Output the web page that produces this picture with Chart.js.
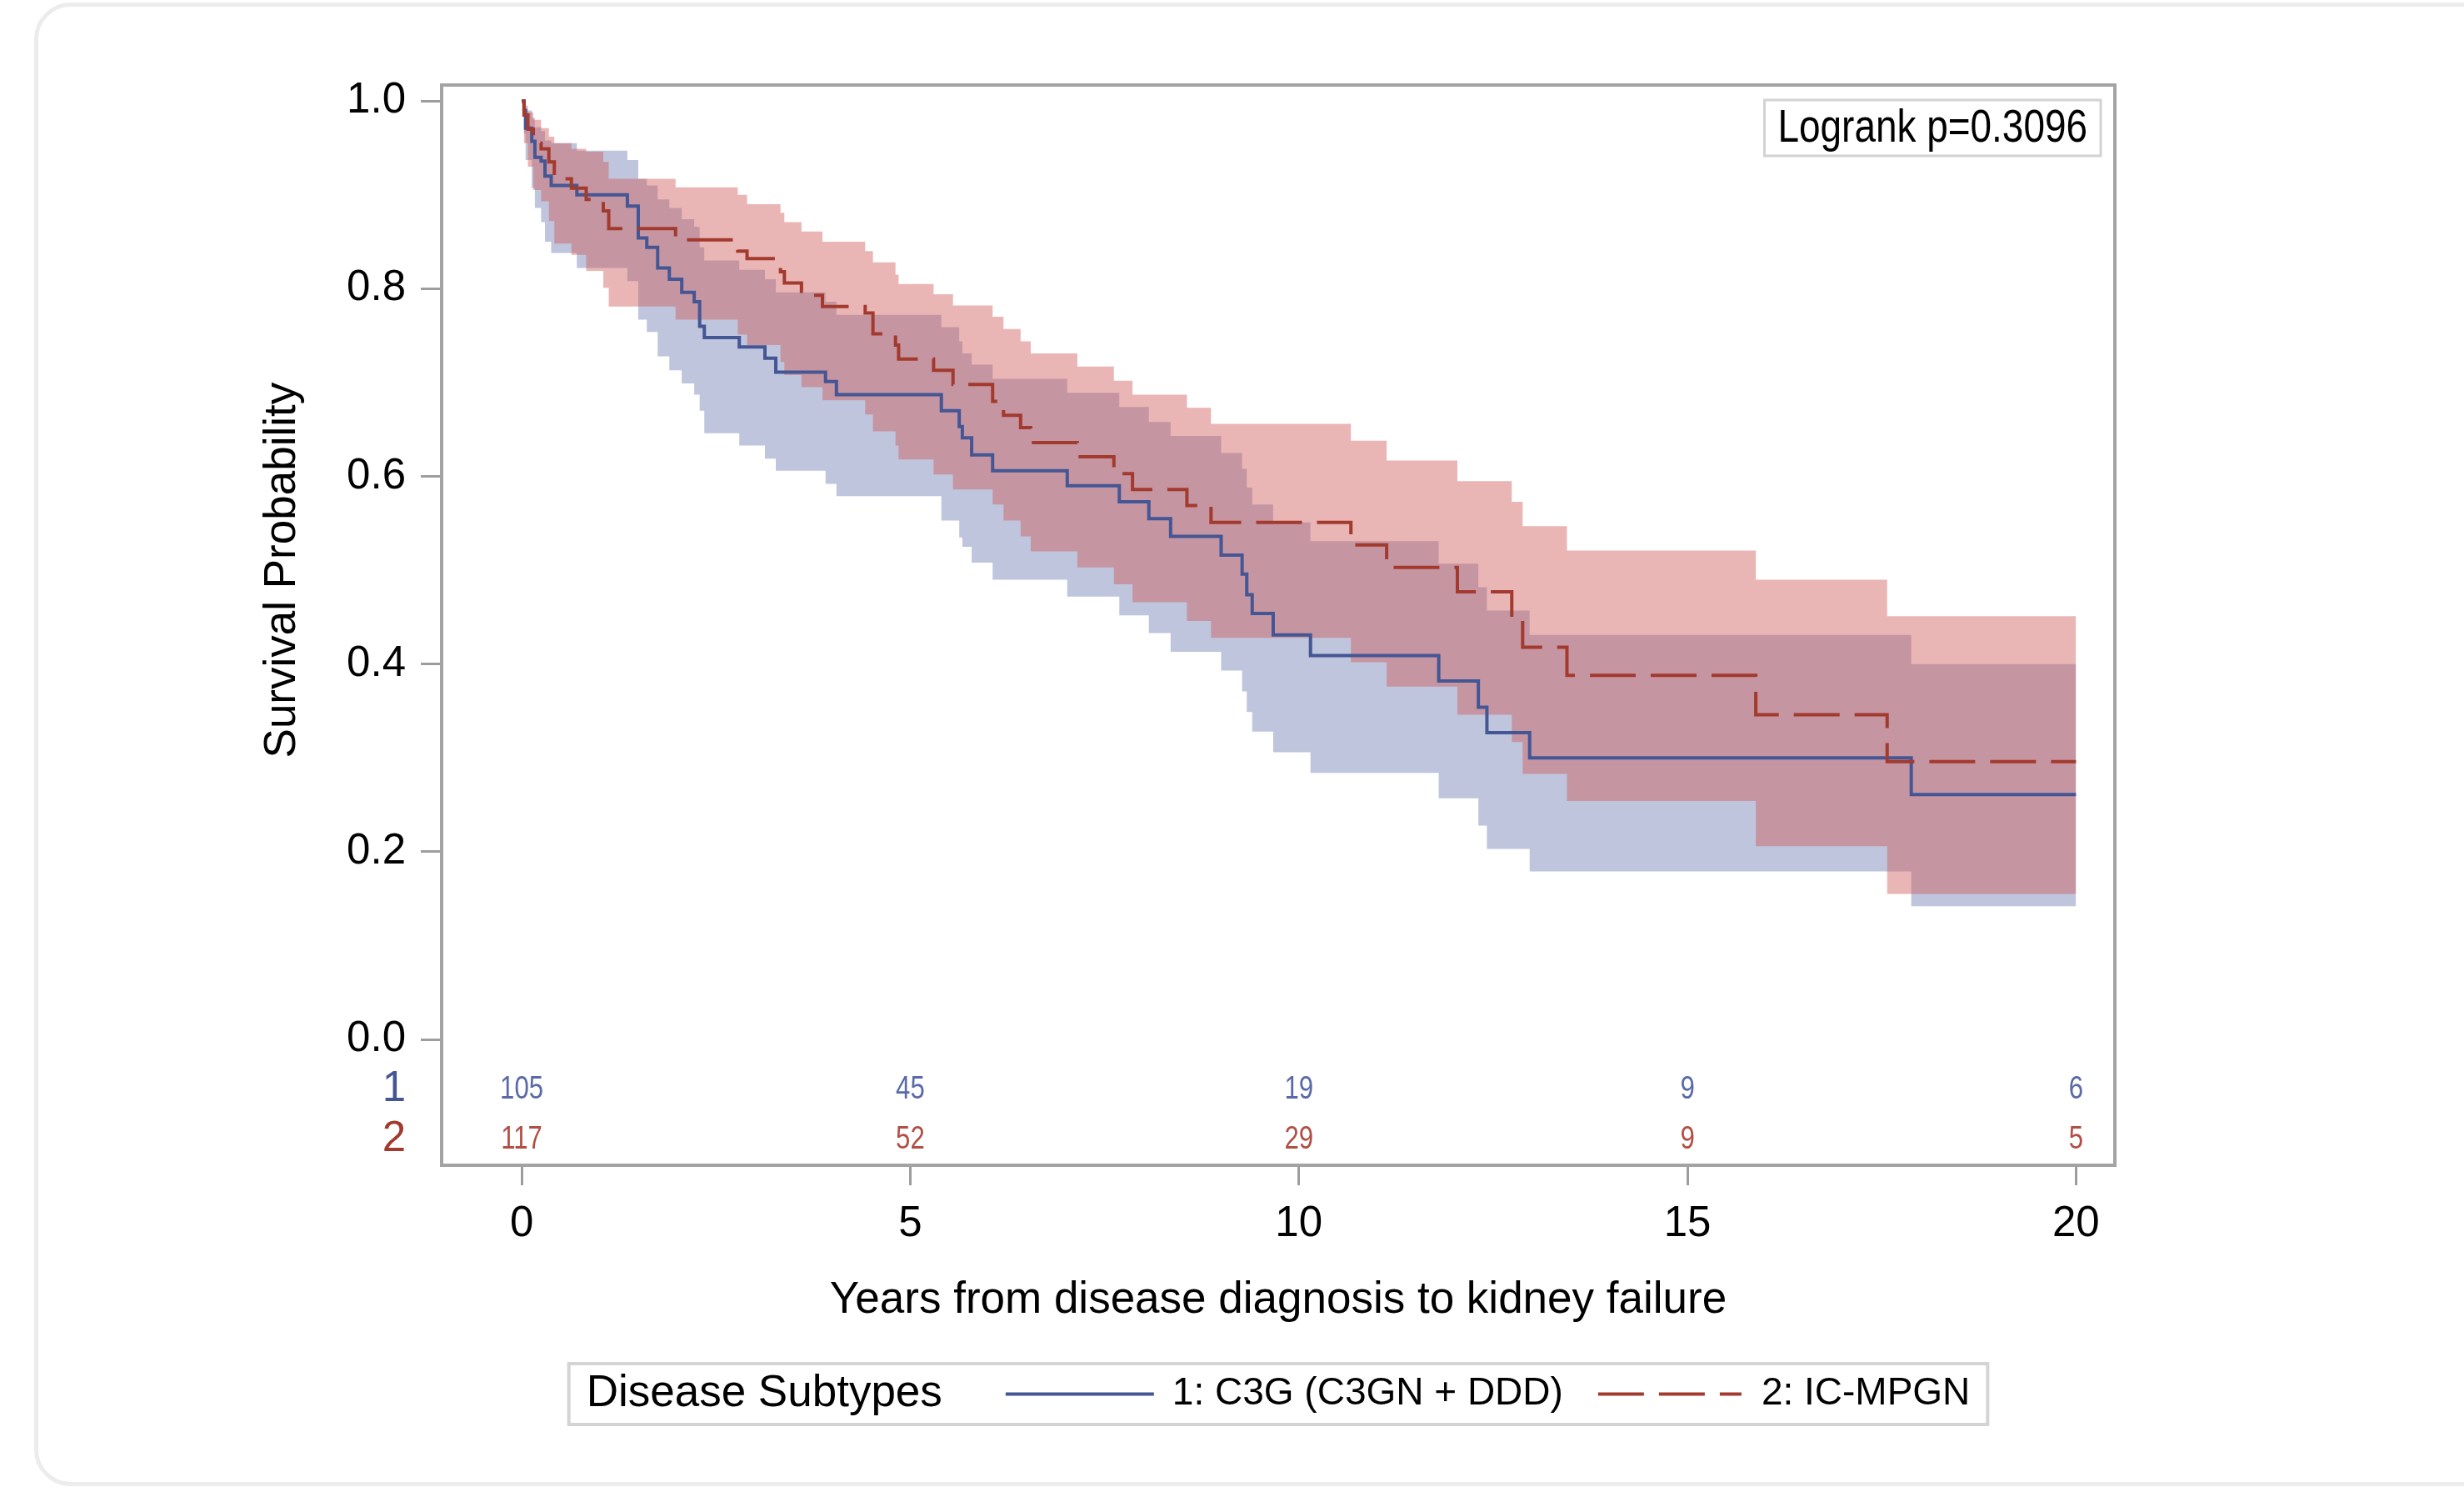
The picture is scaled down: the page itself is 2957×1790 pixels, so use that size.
<!DOCTYPE html>
<html lang="en">
<head>
<meta charset="utf-8">
<title>Kidney failure by disease subtype</title>
<script src="https://cdn.jsdelivr.net/npm/chart.js@4.4.1/dist/chart.umd.min.js"></script>
<style>
    html, body { margin: 0; padding: 0; background: #fff; overflow: hidden; }
    .card {
        position: absolute; left: 41px; top: 3px;
        width: 3100px; height: 1780px;
        border: 5px solid #ececec; border-radius: 44px;
        box-sizing: border-box;
    }
    #survivalChart { position: absolute; left: 0; top: 0; }
</style>
</head>
<body>
<div class="card"></div>
<canvas id="survivalChart" width="2957" height="1790"></canvas>
<script>
// Kaplan-Meier curves (years, survival probability)

// 1: C3G (C3GN + DDD)
const c3gTimes = [0, 0.03, 0.05, 0.13, 0.17, 0.25, 0.30, 0.38, 0.71, 1.36, 1.50, 1.61, 1.75, 1.90, 2.06, 2.22, 2.29, 2.35, 2.80, 3.13,
    3.27, 3.91, 4.05, 5.40, 5.63, 5.67, 5.79, 6.06, 7.02, 7.69, 8.07, 8.35, 9.00, 9.27, 9.33, 9.40, 9.67, 10.15, 11.80, 12.31,
    12.42, 12.97, 17.88, 20.0];
const c3gSurvival = [1.000, 0.990, 0.971, 0.957, 0.940, 0.936, 0.920, 0.910, 0.900, 0.888, 0.854, 0.844, 0.822, 0.810, 0.796, 0.786, 0.760, 0.748, 0.738, 0.726,
    0.711, 0.701, 0.687, 0.670, 0.653, 0.641, 0.623, 0.606, 0.590, 0.573, 0.555, 0.536, 0.516, 0.496, 0.474, 0.454, 0.431, 0.409, 0.382, 0.354,
    0.327, 0.300, 0.261, 0.261];
const c3gLower = [1.000, 0.965, 0.937, 0.907, 0.886, 0.871, 0.850, 0.838, 0.822, 0.808, 0.767, 0.754, 0.728, 0.713, 0.699, 0.687, 0.670, 0.646, 0.633, 0.619,
    0.606, 0.592, 0.579, 0.553, 0.535, 0.525, 0.508, 0.490, 0.472, 0.452, 0.433, 0.413, 0.393, 0.371, 0.349, 0.328, 0.306, 0.284, 0.257, 0.228,
    0.203, 0.179, 0.142, 0.142];
const c3gUpper = [1.000, 0.998, 0.990, 0.982, 0.972, 0.968, 0.958, 0.955, 0.947, 0.937, 0.917, 0.910, 0.895, 0.886, 0.874, 0.866, 0.844, 0.830, 0.820, 0.810,
    0.796, 0.786, 0.772, 0.759, 0.744, 0.731, 0.719, 0.704, 0.689, 0.674, 0.658, 0.643, 0.625, 0.608, 0.588, 0.570, 0.551, 0.531, 0.507, 0.482,
    0.457, 0.431, 0.400, 0.400];

// 2: IC-MPGN
const icTimes = [0, 0.03, 0.08, 0.15, 0.25, 0.35, 0.42, 0.64, 0.83, 1.05, 1.12, 1.98, 2.78, 2.90, 3.33, 3.38, 3.60, 3.87, 4.42, 4.52,
    4.81, 4.85, 5.30, 5.55, 6.06, 6.20, 6.42, 6.55, 7.15, 7.62, 7.86, 8.56, 8.87, 10.67, 11.13, 12.04, 12.74, 12.88, 13.45, 15.88,
    17.57, 20.0];
const icSurvival = [1.000, 0.985, 0.970, 0.955, 0.949, 0.935, 0.917, 0.907, 0.895, 0.883, 0.864, 0.852, 0.840, 0.832, 0.818, 0.806, 0.793, 0.781, 0.774, 0.752,
    0.740, 0.725, 0.713, 0.698, 0.680, 0.665, 0.652, 0.636, 0.621, 0.603, 0.586, 0.569, 0.551, 0.527, 0.503, 0.477, 0.448, 0.418, 0.388, 0.346,
    0.296, 0.296];
const icLower = [1.000, 0.955, 0.930, 0.905, 0.893, 0.872, 0.848, 0.836, 0.819, 0.801, 0.781, 0.767, 0.751, 0.740, 0.722, 0.708, 0.695, 0.681, 0.666, 0.648,
    0.633, 0.618, 0.602, 0.586, 0.570, 0.553, 0.536, 0.520, 0.503, 0.485, 0.466, 0.446, 0.428, 0.402, 0.376, 0.346, 0.317, 0.283, 0.254, 0.206,
    0.155, 0.155];
const icUpper = [1.000, 0.995, 0.988, 0.980, 0.971, 0.962, 0.955, 0.949, 0.946, 0.935, 0.917, 0.908, 0.900, 0.890, 0.881, 0.871, 0.861, 0.850, 0.840, 0.828,
    0.815, 0.805, 0.794, 0.782, 0.770, 0.757, 0.744, 0.731, 0.717, 0.702, 0.687, 0.673, 0.656, 0.638, 0.617, 0.595, 0.573, 0.547, 0.521, 0.490,
    0.451, 0.451];

// Numbers at risk
const riskTimes = [0, 5, 10, 15, 20];
const c3gAtRisk = [105, 45, 19, 9, 6];
const icAtRisk = [117, 52, 29, 9, 5];

// Axis ticks
const xTicks = [0, 5, 10, 15, 20];
const yTicks = [0, 0.2, 0.4, 0.6, 0.8, 1.0];

const FONT = '"Liberation Sans", Arial, sans-serif';
// SAS draws the inset and the at-risk numbers in a narrow face
const NARROW_SCALE = 0.82;

const BLUE = '#445694';
const RED = '#A23A2E';
const BLUE_BAND = 'rgba(111, 126, 179, 0.45)';
const RED_BAND = 'rgba(208, 91, 91, 0.45)';
const NO_COLOR = 'rgba(0, 0, 0, 0)';

// The at-risk rows sit inside the frame, below 0 on the y axis
const RISK_ROW_1 = -0.0533;
const RISK_ROW_2 = -0.1066;

function toPoints(times, values) {
    return times.map((t, i) => ({ x: t, y: values[i] }));
}

function isRiskRow(value) {
    return value === RISK_ROW_1 || value === RISK_ROW_2;
}

// Text squeezed horizontally, anchored per the current textAlign
function fillNarrowText(ctx, text, x, y) {
    ctx.save();
    ctx.translate(x, y);
    ctx.scale(NARROW_SCALE, 1);
    ctx.fillText(text, 0, 0);
    ctx.restore();
}

// Survival curve
function stepLine(label, times, values, color, dash, order) {
    return {
        label: label,
        data: toPoints(times, values),
        stepped: true,
        borderColor: color,
        borderWidth: 4,
        borderDash: dash,
        borderJoinStyle: 'miter',
        pointRadius: 0,
        fill: false,
        order: order
    };
}

// One edge of a confidence band; the upper edge fills down to the next dataset
function bandEdge(times, values, fillColor, order) {
    return {
        data: toPoints(times, values),
        stepped: true,
        borderColor: NO_COLOR,
        borderWidth: 0,
        pointRadius: 0,
        backgroundColor: fillColor || NO_COLOR,
        fill: fillColor ? '+1' : false,
        order: order
    };
}

// Frame, at-risk table, y title, logrank inset and legend
const kmDecorations = {
    id: 'kmDecorations',
    afterDraw(chart) {
        const { ctx, chartArea, scales } = chart;
        const lines = chart.data.datasets;
        ctx.save();

        // Plot frame
        ctx.strokeStyle = '#a3a3a3';
        ctx.lineWidth = 4;
        ctx.strokeRect(chartArea.left, chartArea.top, chartArea.right - chartArea.left, chartArea.bottom - chartArea.top);

        // Numbers at risk
        ctx.font = `38px ${FONT}`;
        ctx.textAlign = 'center';
        ctx.textBaseline = 'middle';
        riskTimes.forEach((t, i) => {
            const x = scales.x.getPixelForValue(t);
            ctx.fillStyle = '#5a6aa8';
            fillNarrowText(ctx, String(c3gAtRisk[i]), x, scales.y.getPixelForValue(RISK_ROW_1));
            ctx.fillStyle = '#b24e45';
            fillNarrowText(ctx, String(icAtRisk[i]), x, scales.y.getPixelForValue(RISK_ROW_2));
        });

        // Y axis title, centred on the 0..1 range
        ctx.save();
        ctx.translate(339, scales.y.getPixelForValue(0.5));
        ctx.rotate(-Math.PI / 2);
        ctx.font = `53px ${FONT}`;
        ctx.fillStyle = '#000';
        ctx.fillText('Survival Probability', 0, 0);
        ctx.restore();

        // Logrank inset
        const pText = 'Logrank p=0.3096';
        ctx.font = `56px ${FONT}`;
        const boxW = ctx.measureText(pText).width * NARROW_SCALE + 32;
        const boxH = 67;
        const boxRight = chartArea.right - 17;
        const boxTop = chartArea.top + 18;
        ctx.strokeStyle = '#d2d2d2';
        ctx.lineWidth = 3;
        ctx.strokeRect(boxRight - boxW, boxTop, boxW, boxH);
        ctx.fillStyle = '#000';
        ctx.textAlign = 'left';
        fillNarrowText(ctx, pText, boxRight - boxW + 16, boxTop + boxH / 2 + 1);

        // Legend
        const title = 'Disease Subtypes';
        ctx.font = `53px ${FONT}`;
        const titleW = ctx.measureText(title).width;
        ctx.font = `46px ${FONT}`;
        const w1 = ctx.measureText(lines[1].label).width;
        const w2 = ctx.measureText(lines[0].label).width;
        const legendW = 21 + titleW + 76 + 178 + 22 + w1 + 42 + 172 + 24 + w2 + 21;
        const legendTop = 1636;
        const legendH = 73;
        let x = (chartArea.left + chartArea.right) / 2 - legendW / 2;
        const cy = legendTop + legendH / 2;

        ctx.strokeStyle = '#d4d4d4';
        ctx.lineWidth = 4;
        ctx.strokeRect(x, legendTop, legendW, legendH);

        x += 21;
        ctx.font = `53px ${FONT}`;
        ctx.fillText(title, x, cy);
        x += titleW + 76;

        ctx.strokeStyle = lines[1].borderColor;
        ctx.lineWidth = 4;
        ctx.beginPath();
        ctx.moveTo(x, cy);
        ctx.lineTo(x + 178, cy);
        ctx.stroke();
        x += 178 + 22;
        ctx.font = `46px ${FONT}`;
        ctx.fillText(lines[1].label, x, cy);
        x += w1 + 42;

        ctx.strokeStyle = lines[0].borderColor;
        ctx.setLineDash(lines[0].borderDash);
        ctx.beginPath();
        ctx.moveTo(x, cy);
        ctx.lineTo(x + 172, cy);
        ctx.stroke();
        ctx.setLineDash([]);
        x += 172 + 24;
        ctx.fillText(lines[0].label, x, cy);

        ctx.restore();
    }
};

const canvas = document.getElementById('survivalChart');
const ctx = canvas.getContext('2d');

new Chart(ctx, {
    type: 'line',
    data: {
        datasets: [
            stepLine('2: IC-MPGN', icTimes, icSurvival, RED, [55, 18], 0),
            stepLine('1: C3G (C3GN + DDD)', c3gTimes, c3gSurvival, BLUE, [], 1),
            bandEdge(icTimes, icUpper, RED_BAND, 2),
            bandEdge(icTimes, icLower, null, 2),
            bandEdge(c3gTimes, c3gUpper, BLUE_BAND, 3),
            bandEdge(c3gTimes, c3gLower, null, 3)
        ]
    },
    options: {
        responsive: false,
        animation: false,
        devicePixelRatio: 1,
        events: [],
        layout: {
            padding: { left: 250, top: 102, right: 419, bottom: 192 }
        },
        plugins: {
            legend: { display: false },
            tooltip: { enabled: false }
        },
        scales: {
            x: {
                type: 'linear',
                min: -1.03,
                max: 20.5,
                afterBuildTicks: (scale) => { scale.ticks = xTicks.map(v => ({ value: v })); },
                afterFit: (scale) => { scale.height = 200; },
                border: { display: false },
                grid: { drawOnChartArea: false, tickLength: 24, lineWidth: 3, tickColor: '#9d9d9d' },
                ticks: {
                    autoSkip: false,
                    maxRotation: 0,
                    padding: 16,
                    color: '#000',
                    font: { family: FONT, size: 51 },
                    callback: (value) => String(value)
                },
                title: {
                    display: true,
                    text: 'Years from disease diagnosis to kidney failure',
                    color: '#000',
                    font: { family: FONT, size: 53 },
                    padding: { top: 0, bottom: 6 }
                }
            },
            y: {
                type: 'linear',
                min: -0.134,
                max: 1.017,
                afterBuildTicks: (scale) => {
                    scale.ticks = [RISK_ROW_2, RISK_ROW_1, ...yTicks].map(v => ({ value: v }));
                },
                afterFit: (scale) => { scale.width = 280; },
                border: { display: false },
                grid: {
                    drawOnChartArea: false,
                    tickLength: 25,
                    lineWidth: 3,
                    tickColor: (c) => (c.tick && isRiskRow(c.tick.value)) ? NO_COLOR : '#9d9d9d'
                },
                ticks: {
                    autoSkip: false,
                    padding: 18,
                    font: { family: FONT, size: 51 },
                    color: (c) => {
                        if (!c.tick) return '#000';
                        if (c.tick.value === RISK_ROW_1) return BLUE;
                        if (c.tick.value === RISK_ROW_2) return RED;
                        return '#000';
                    },
                    callback: (value) => {
                        if (value === RISK_ROW_1) return '1';
                        if (value === RISK_ROW_2) return '2';
                        return value.toFixed(1);
                    }
                }
            }
        }
    },
    plugins: [kmDecorations]
});
</script>
</body>
</html>
